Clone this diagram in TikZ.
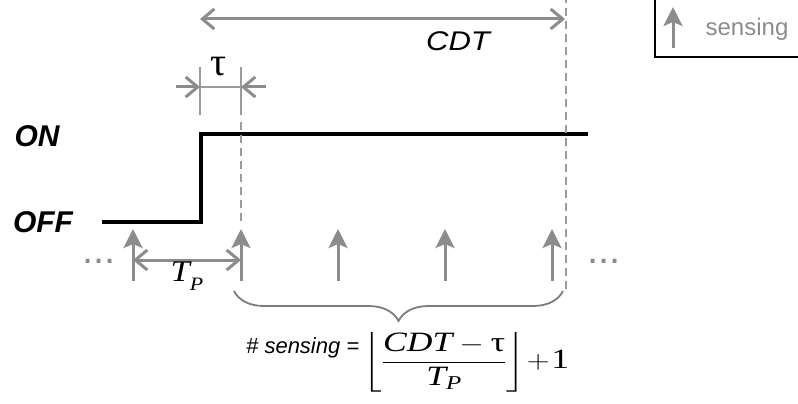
\documentclass[tikz,border=0pt]{standalone}
\usepackage{amsmath}
\usepackage{fontspec}
\setmainfont{Liberation Sans}
\newfontfamily\timesf{Liberation Serif}
\usetikzlibrary{arrows.meta, positioning, decorations.pathreplacing, calc}
\usepackage{xcolor}

\definecolor{sensgray}{RGB}{140,140,140}
\definecolor{dimgray}{RGB}{155,155,155}
\definecolor{bracegray}{RGB}{125,125,125}

\begin{document}
\begin{tikzpicture}[
    x=1pt, y=-1pt,
    level/.style={line width=3.5pt, black, line join=miter},
    sensarrow/.style={-{Stealth[length=19pt, width=19pt, inset=4pt]},
                      line width=3pt, sensgray},
    dimarrow/.style={{Straight Barb[length=12pt, width=20pt]}-{Straight Barb[length=12pt, width=20pt]},
                     line width=3pt, sensgray},
    halfarrow/.style={-{Straight Barb[length=12pt, width=20pt]}, line width=3pt, sensgray},
    tickline/.style={line width=2pt, dimgray},
    markline/.style={dash pattern=on 8pt off 5pt, line width=2.5pt, dimgray},
    lbl/.style={font=\fontsize{30}{32}\selectfont\bfseries\itshape, inner sep=0pt},
    dotlbl/.style={font=\fontsize{40}{42}\selectfont, text=sensgray, inner sep=0pt},
]

\clip (0,0) rectangle (798,404);

% Legend (cut by the page edge)
\coordinate (legA) at (655,-10);
\coordinate (legB) at (812,57);
\draw[line width=1.5pt] (legA) rectangle (legB);
\coordinate (lgb) at (673,48);
\coordinate (lgt) at (673,7);
\draw[sensarrow] (lgb) -- (lgt);
\node[font=\fontsize{24}{26}\selectfont, text=sensgray, inner sep=0pt]
     (legtxt) at (747,29) {sensing};

% Channel state
\coordinate (off0)  at (102,222);
\coordinate (stepb) at (201,222);
\coordinate (stept) at (201,134);
\coordinate (on1)   at (588,134);
\draw[level] (off0) -- (stepb) -- (stept) -- (on1);

\node[lbl] (on)  at (37,136) {ON};
\node[lbl] (off) at (43,222) {OFF};

% CDT span
\coordinate (cdtL) at (200,19);
\coordinate (cdtR) at (565,19);
\draw[dimarrow] (cdtL) -- (cdtR);
\node[font=\fontsize{27}{29}\selectfont\itshape, inner sep=0pt]
     (cdt) at (458,41) {\scalebox{1.15}[1]{CDT}};

% tau span
\coordinate (tk1a) at (200,67);  \coordinate (tk1b) at (200,115);
\coordinate (tk2a) at (241,67);  \coordinate (tk2b) at (241,115);
\coordinate (tau1) at (200,87);  \coordinate (tau2) at (241,87);
\coordinate (tauL) at (176,87);  \coordinate (tauR) at (266,87);
\draw[tickline] (tk1a) -- (tk1b);
\draw[tickline] (tk2a) -- (tk2b);
\draw[tickline] (tau1) -- (tau2);
\draw[halfarrow] (tauL) -- (tau1);
\draw[halfarrow] (tauR) -- (tau2);
\node[font=\fontsize{40}{42}\selectfont\timesf, inner sep=0pt]
     (tau) at (219,67) {τ};

% Marker lines
\coordinate (tauTop) at (241,122);
\coordinate (tauBot) at (241,222);
\draw[markline, line width=2pt] (tauTop) -- (tauBot);
\coordinate (cdtTop) at (566,-5);
\coordinate (cdtBot) at (566,293);
\draw[markline] (cdtTop) -- (cdtBot);

% Sensing instants
\foreach \i/\x in {0/133, 1/241, 2/338, 3/445, 4/552} {
  \coordinate (s\i) at (\x,281);
  \coordinate (t\i) at (\x,229);
  \draw[sensarrow] (s\i) -- (t\i);
}
\node[dotlbl] (ldots) at (99,261) {...};
\node[dotlbl] (rdots) at (604,261) {...};

% Sensing period
\coordinate (tp1) at (133,260);
\coordinate (tp2) at (241,260);
\draw[dimarrow] (tp1) -- (tp2);
\node[font=\fontsize{30}{32}\selectfont\timesf\itshape, inner sep=0pt,
      below=2pt of $(tp1)!0.5!(tp2)$]
     (tp) {\scalebox{1.15}[1]{T\raisebox{-0.3em}{\fontsize{19}{19}\selectfont P}}};

% Count of sensings
\coordinate (brR) at (563,291);
\coordinate (brL) at (234,291);
\draw[bracegray, line width=1.8pt, decorate,
      decoration={brace, amplitude=30pt}] (brR) -- (brL);

\node[font=\fontsize{22}{24}\selectfont\itshape, anchor=west, inner sep=0pt]
     (nsens) at (246,348) {\# sensing =};
\node[anchor=west, inner sep=0pt] (frm) at (363,362)
     {\scalebox{1.27}[1]{\fontsize{28}{30}\selectfont
      $\left\lfloor\dfrac{\text{\timesf\itshape CDT}-\text{\timesf τ}}
      {\text{\timesf\itshape T\textsubscript{P}}}\right\rfloor\!+\!\text{\timesf 1}$}};

\end{tikzpicture}
\end{document}
